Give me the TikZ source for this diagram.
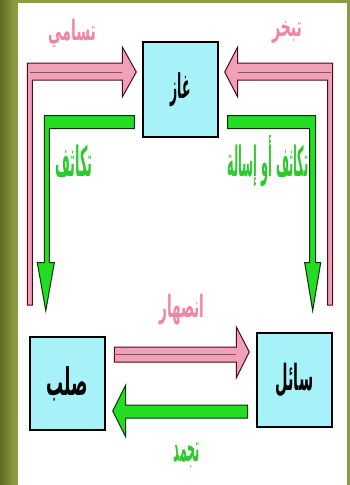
\documentclass[tikz,border=0pt]{standalone}
\usepackage{fontspec}
\newfontfamily\arabicfont[Script=Arabic]{DejaVu Sans}
\TeXXeTstate=1
\usetikzlibrary{calc}
\definecolor{olive1}{HTML}{8C9C44}
\definecolor{olive0}{HTML}{5E6C22}
\definecolor{boxfill}{HTML}{A6F2F8}
\definecolor{pinkfill}{HTML}{F2A0B6}
\definecolor{pinkedge}{HTML}{4A0A1C}
\definecolor{pinktext}{HTML}{F283A2}
\definecolor{greenfill}{HTML}{22DD22}
\definecolor{greenedge}{HTML}{0A300A}
\definecolor{greentext}{HTML}{2CCB2C}
\tikzset{
  statebox/.style={draw=black, line width=1.4pt, fill=boxfill, minimum width=75pt, inner sep=0pt,
    font=\arabicfont\bfseries\fontsize{20}{22}\selectfont},
  pinkarrow/.style={fill=pinkfill, draw=pinkedge, line width=1pt, line join=miter},
  greenarrow/.style={fill=greenfill, draw=greenedge, line width=1pt, line join=miter},
  pinklbl/.style={text=pinktext, font=\arabicfont\bfseries\fontsize{14}{16}\selectfont, inner sep=0pt},
  greenlbl/.style={text=greentext, font=\arabicfont\bfseries\fontsize{16}{18}\selectfont, inner sep=0pt},
  stripe/.style={draw=pinkedge!70, line width=0.7pt}
}
\begin{document}
\begin{tikzpicture}[x=1pt,y=-1pt]
\useasboundingbox (0,0) rectangle (350,485);
% background
\fill[olive1] (0,0) rectangle (350,485);
\shade[left color=olive0, right color=olive1] (0,0) rectangle (14,485);
\fill[white] (18,3) rectangle (347,485);

% state boxes
\node[statebox, minimum height=95pt] (gas) at (180.5,89.5) {\scalebox{0.62}[1.7]{\beginR غاز\endR}};
\node[statebox, minimum height=93pt] (solid) at (67.5,383.5) {\scalebox{0.85}[1.9]{\beginR صلب\endR}};
\node[statebox, minimum height=94pt] (liquid) at (294.5,380) {\scalebox{0.72}[1.8]{\beginR سائل\endR}};

% anchor coordinates for connectors
\path (gas.west) ++(-6,-17.5) coordinate (subTip);
\path (gas.east) ++(6,-17.5) coordinate (evapTip);
\path (gas.south west) ++(-8,-22) coordinate (condL);
\path (gas.south east) ++(9,-22) coordinate (condR);
\path (liquid.west) ++(-7,-28) coordinate (meltTip);
\path (solid.east) ++(7,27.5) coordinate (freezeTip);

% sublimation (solid -> gas), pink L arrow
\filldraw[pinkarrow] (subTip) -- ++(-14,-25) -- ++(0,16) -- ++(-95,0) -- ++(0,242) -- ++(5,0)
  -- ++(0,-225) -- ++(90,0) -- ++(0,17) -- cycle;
\draw[stripe] ($(subTip)+(-14,0)$) -- ++(-92,0);
% evaporation (liquid -> gas), pink L arrow
\filldraw[pinkarrow] (evapTip) -- ++(13,-25) -- ++(0,16) -- ++(95,0) -- ++(0,242) -- ++(-5,0)
  -- ++(0,-225) -- ++(-90,0) -- ++(0,17) -- cycle;
\draw[stripe] ($(evapTip)+(13,0)$) -- ++(93,0);

% condensation left (gas -> solid), green L arrow
\filldraw[greenarrow] (condL) -- ++(-90,0) -- ++(0,147) -- ++(-7,0) -- ++(8.5,48) -- ++(8.5,-48)
  -- ++(-5,0) -- ++(0,-134) -- ++(85,0) -- cycle;
% condensation right (gas -> liquid), green L arrow
\filldraw[greenarrow] (condR) -- ++(88,0) -- ++(0,147) -- ++(5,0) -- ++(-8,48) -- ++(-8,-48)
  -- ++(5,0) -- ++(0,-134) -- ++(-82,0) -- cycle;

% melting (solid -> liquid)
\filldraw[pinkarrow] (meltTip) -- ++(-13,-25) -- ++(0,20) -- ++(-122,0) -- ++(0,15) -- ++(122,0)
  -- ++(0,16) -- cycle;
\draw[stripe] ($(meltTip)+(-13,2)$) -- ++(-122,0);
% freezing (liquid -> solid)
\filldraw[greenarrow] (freezeTip) -- ++(13,-26) -- ++(0,20) -- ++(122,0) -- ++(0,13) -- ++(-122,0)
  -- ++(0,19) -- cycle;

% labels
\node[pinklbl] (lsub) at (72,33) {\scalebox{1.0}[2.0]{\beginR تسامي\endR}};
\node[pinklbl] (levap) at (287,32) {\scalebox{1.0}[2.0]{\beginR تبخر\endR}};
\node[greenlbl] (lcondL) at (74,161) {\scalebox{0.8}[2.6]{\beginR تكاثف\endR}};
\node[greenlbl] (lcondR) at (268,161) {\scalebox{0.7}[2.6]{\beginR تكاثف أو إسالة\endR}};
\node[pinklbl] (lmelt) at (182,310) {\scalebox{0.97}[2.2]{\beginR انصهار\endR}};
\node[greenlbl] (lfreeze) at (187,455) {\scalebox{0.7}[2.4]{\beginR تجمد\endR}};
\end{tikzpicture}
\end{document}
